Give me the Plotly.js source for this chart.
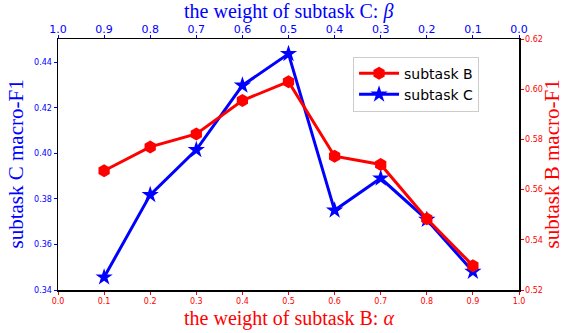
<!DOCTYPE html>
<html><head><meta charset="utf-8">
<script src="https://cdn.plot.ly/plotly-3.0.1.min.js"></script>
<style>html,body{margin:0;padding:0;background:#fff}#chart{width:570px;height:333px}</style>
</head><body><div id="chart"></div>
<script>
const alpha = [0.1, 0.2, 0.3, 0.4, 0.5, 0.6, 0.7, 0.8, 0.9];
const subtaskB = [0.5675, 0.577, 0.5822, 0.5955, 0.603, 0.5733, 0.570, 0.5484, 0.5297];
const subtaskC = [0.3456, 0.3818, 0.4016, 0.4299, 0.4438, 0.375, 0.3891, 0.3709, 0.3481];
const bottomTicks = [0.0, 0.1, 0.2, 0.3, 0.4, 0.5, 0.6, 0.7, 0.8, 0.9, 1.0];
const leftTicks = [0.34, 0.36, 0.38, 0.40, 0.42, 0.44];
const rightTicks = [0.52, 0.54, 0.56, 0.58, 0.60, 0.62];

const tickFont = {family: 'DejaVu Sans', size: 8};
const serif = 'Liberation Serif, Times New Roman, serif';

const traces = [
  {x: alpha, y: subtaskB, name: 'subtask B', xaxis: 'x', yaxis: 'y2', mode: 'lines+markers',
   line: {color: 'red', width: 3}, marker: {symbol: 'hexagon', size: 13, color: 'red'}},
  {x: alpha, y: subtaskC, name: 'subtask C', xaxis: 'x', yaxis: 'y', mode: 'lines+markers',
   line: {color: 'blue', width: 3}, marker: {symbol: 'star', size: 13, color: 'blue'}},
  {x: [], y: [], xaxis: 'x2', yaxis: 'y', showlegend: false, hoverinfo: 'skip', mode: 'markers'}
];

const axisCommon = {showgrid: false, zeroline: false, showline: true, linecolor: '#000', linewidth: 1.5,
                    ticks: 'outside', ticklen: 3};

const layout = {
  width: 570, height: 333,
  margin: {l: 58, r: 51, t: 39, b: 43},
  paper_bgcolor: '#fff', plot_bgcolor: '#fff',
  showlegend: true,
  legend: {x: 0.64, y: 0.93, xanchor: 'left', yanchor: 'top', bgcolor: 'rgba(255,255,255,0.8)',
           bordercolor: '#ccc', borderwidth: 1, font: {family: 'DejaVu Sans', size: 14, color: '#000'},
           tracegroupgap: 0, itemwidth: 40},
  xaxis: Object.assign({}, axisCommon, {range: [0, 1], tickvals: bottomTicks, ticktext: bottomTicks.map(v => v.toFixed(1)),
          tickcolor: 'red', tickfont: Object.assign({color: 'red'}, tickFont)}),
  xaxis2: Object.assign({}, axisCommon, {overlaying: 'x', side: 'top', range: [1, 0], tickvals: bottomTicks,
           ticktext: bottomTicks.map(v => v.toFixed(1)), ticklabelstandoff: -3,
           tickcolor: 'blue', tickfont: {family: 'DejaVu Sans', size: 11, color: 'blue'}}),
  yaxis: Object.assign({}, axisCommon, {range: [0.34, 0.4503], tickvals: leftTicks, ticktext: leftTicks.map(v => v.toFixed(2)),
          tickcolor: 'blue', tickfont: Object.assign({color: 'blue'}, tickFont)}),
  yaxis2: Object.assign({}, axisCommon, {overlaying: 'y', side: 'right', range: [0.52, 0.62], tickvals: rightTicks,
           ticktext: rightTicks.map(v => v.toFixed(2)),
           tickcolor: 'red', tickfont: Object.assign({color: 'red'}, tickFont)}),
  annotations: [
    {text: 'the weight of subtask C: <i>β</i>', xref: 'paper', yref: 'paper', x: 0.5, y: 1 + 28/251,
     xanchor: 'center', yanchor: 'middle', showarrow: false, borderpad: 0, font: {family: serif, size: 20, color: 'blue'}},
    {text: 'the weight of subtask B: <i>α</i>', xref: 'paper', yref: 'paper', x: 0.5, y: -28/251,
     xanchor: 'center', yanchor: 'middle', showarrow: false, borderpad: 0, font: {family: serif, size: 20, color: 'red'}},
    {text: 'subtask C macro-F1', xref: 'paper', yref: 'paper', x: -43/461, y: 0.5, textangle: -90,
     xanchor: 'center', yanchor: 'middle', showarrow: false, borderpad: 0, font: {family: serif, size: 21, color: 'blue'}},
    {text: 'subtask B macro-F1', xref: 'paper', yref: 'paper', x: 1 + 32/461, y: 0.5, textangle: -90,
     xanchor: 'center', yanchor: 'middle', showarrow: false, borderpad: 0, font: {family: serif, size: 21, color: 'red'}}
  ]
};

Plotly.newPlot('chart', traces, layout, {displayModeBar: false, staticPlot: true});
</script></body></html>
